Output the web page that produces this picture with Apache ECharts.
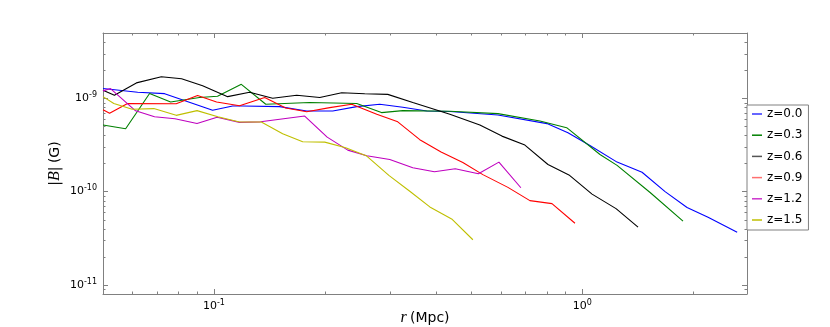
<!DOCTYPE html>
<html>
<head>
<meta charset="utf-8">
<title>|B| vs r</title>
<script src="https://cdn.jsdelivr.net/npm/echarts@6/dist/echarts.min.js"></script>
<style>
  html, body { margin: 0; padding: 0; background: #fff; }
  #chart { width: 830px; height: 327px; }
</style>
</head>
<body>
<div id="chart"></div>
<script>
// r in Mpc, |B| in Gauss
const r00 = [0.050, 0.0621, 0.0735, 0.0992, 0.1124, 0.1197, 0.1508, 0.1786, 0.2102, 0.2442, 0.2820, 0.3257, 0.3784, 0.4371, 0.5902, 0.8020, 0.9144, 1.049, 1.243, 1.453, 1.678, 1.925, 2.195, 2.633]
const b00 = [1.27e-9, 1.16e-9, 1.12e-9, 7.43e-10, 8.27e-10, 8.27e-10, 8.14e-10, 7.30e-10, 7.30e-10, 8.14e-10, 8.62e-10, 8.00e-10, 7.30e-10, 7.20e-10, 6.61e-10, 5.35e-10, 4.28e-10, 3.12e-10, 2.07e-10, 1.61e-10, 1.00e-10, 6.76e-11, 5.32e-11, 3.67e-11]

const r03 = [0.050, 0.0576, 0.0669, 0.0763, 0.0914, 0.1023, 0.1187, 0.1383, 0.1820, 0.2442, 0.2850, 0.3257, 0.4371, 0.5902, 0.7675, 0.907, 1.117, 1.243, 1.528, 1.877]
const b03 = [5.16e-10, 4.72e-10, 1.126e-9, 9.12e-10, 1.02e-9, 1.05e-9, 1.41e-9, 8.62e-10, 8.99e-10, 8.77e-10, 7.02e-10, 7.37e-10, 7.25e-10, 6.85e-10, 5.70e-10, 4.84e-10, 2.50e-10, 1.91e-10, 9.78e-11, 4.82e-11]

const r06 = [0.050, 0.0537, 0.0616, 0.0720, 0.0817, 0.0932, 0.1090, 0.1250, 0.1444, 0.1678, 0.1938, 0.2223, 0.2567, 0.2965, 0.3467, 0.4371, 0.5272, 0.6052, 0.6986, 0.8070, 0.920, 1.063, 1.235, 1.417]
const b06 = [1.22e-9, 1.077e-9, 1.46e-9, 1.70e-9, 1.62e-9, 1.36e-9, 1.04e-9, 1.16e-9, 1.00e-9, 1.077e-9, 1.02e-9, 1.146e-9, 1.118e-9, 1.10e-9, 8.99e-10, 6.73e-10, 5.16e-10, 3.93e-10, 3.15e-10, 1.95e-10, 1.51e-10, 9.4e-11, 6.57e-11, 4.17e-11]

const r09 = [0.050, 0.0521, 0.0583, 0.0790, 0.0903, 0.1017, 0.1174, 0.1374, 0.1566, 0.1786, 0.2063, 0.2367, 0.2768, 0.3156, 0.3622, 0.4137, 0.4740, 0.5372, 0.6283, 0.7208, 0.8274, 0.9554]
const b09 = [7.52e-10, 6.90e-10, 8.77e-10, 8.73e-10, 1.07e-9, 9.12e-10, 8.31e-10, 1.02e-9, 7.86e-10, 7.16e-10, 7.94e-10, 8.62e-10, 6.73e-10, 5.59e-10, 3.60e-10, 2.66e-10, 2.05e-10, 1.52e-10, 1.11e-10, 8.0e-11, 7.43e-11, 4.58e-11]

const r12 = [0.050, 0.0524, 0.0613, 0.0690, 0.0784, 0.0900, 0.1020, 0.1174, 0.1339, 0.1764, 0.2030, 0.2309, 0.2600, 0.3002, 0.3467, 0.3969, 0.4520, 0.5225, 0.5939, 0.6813]
const b12 = [1.20e-9, 1.27e-9, 7.34e-10, 6.33e-10, 6.02e-10, 5.36e-10, 6.25e-10, 5.52e-10, 5.59e-10, 6.45e-10, 3.83e-10, 2.78e-10, 2.42e-10, 2.21e-10, 1.80e-10, 1.63e-10, 1.76e-10, 1.55e-10, 2.07e-10, 1.10e-10]

const r15 = [0.050, 0.0535, 0.0600, 0.0687, 0.0790, 0.0900, 0.1025, 0.1174, 0.1345, 0.1537, 0.1742, 0.2000, 0.2279, 0.2600, 0.2985, 0.3402, 0.3856, 0.4420, 0.5047]
const b15 = [1.04e-9, 8.77e-10, 7.62e-10, 7.75e-10, 6.56e-10, 7.37e-10, 6.33e-10, 5.56e-10, 5.56e-10, 4.17e-10, 3.42e-10, 3.39e-10, 2.95e-10, 2.40e-10, 1.49e-10, 1.01e-10, 6.85e-11, 5.09e-11, 3.05e-11]

const names = ['z=0.0', 'z=0.3', 'z=0.6', 'z=0.9', 'z=1.2', 'z=1.5']
const colors = ['#0000ff', '#008000', '#000000', '#ff0000', '#bf00bf', '#bfbf00']
const legendColors = ['#3333ff', '#008000', '#555555', '#ff7070', '#cc33cc', '#bfbf00']

// axis limits and matplotlib-style minor ticks (2..9 x 10^n)
const xMin = 0.05
const xMax = 2.8
const yMin = 8e-12
const yMax = 5e-9
const xMinorTicks = [0.06, 0.07, 0.08, 0.09, 0.2, 0.3, 0.4, 0.5, 0.6, 0.7, 0.8, 0.9, 2]
const yMinorTicks = [9e-12, 2e-11, 3e-11, 4e-11, 5e-11, 6e-11, 7e-11, 8e-11, 9e-11,
  2e-10, 3e-10, 4e-10, 5e-10, 6e-10, 7e-10, 8e-10, 9e-10, 2e-9, 3e-9, 4e-9]

const frame = '#808080'
const font = 'DejaVu Sans'

function zip (xs, ys) {
  return xs.map((x, i) => [x, ys[i]])
}

function powLabel (v) {
  const e = Math.log10(v)
  if (Math.abs(e - Math.round(e)) > 1e-6) return ''
  return '{b|10}{s|' + Math.round(e) + '}'
}

const labelRich = {
  b: { fontFamily: font, fontSize: 11, color: '#000' },
  s: { fontFamily: font, fontSize: 8, color: '#000', padding: [0, 0, 7, 0] }
}

const chart = echarts.init(document.getElementById('chart'))

const seriesData = [zip(r00, b00), zip(r03, b03), zip(r06, b06), zip(r09, b09), zip(r12, b12), zip(r15, b15)]

const lineSeries = seriesData.map((d, i) => ({
  name: names[i],
  type: 'line',
  data: d,
  symbol: 'none',
  lineStyle: { color: colors[i], width: 1.1 },
  itemStyle: { color: colors[i] },
  animation: false,
  z: 3
}))

const minorData = xMinorTicks.map(v => [v, yMin, 0]).concat(yMinorTicks.map(v => [xMin, v, 1]))

function renderMinor (params, api) {
  const cs = params.coordSys
  const p = api.coord([api.value(0), api.value(1)])
  const len = 2.5
  const st = { stroke: frame, lineWidth: 1 }
  if (api.value(2) === 0) {
    const x = Math.round(p[0]) + 0.5
    return {
      type: 'group',
      children: [
        { type: 'line', shape: { x1: x, y1: cs.y + cs.height, x2: x, y2: cs.y + cs.height - len }, style: st },
        { type: 'line', shape: { x1: x, y1: cs.y, x2: x, y2: cs.y + len }, style: st }
      ]
    }
  }
  const y = Math.round(p[1]) + 0.5
  return {
    type: 'group',
    children: [
      { type: 'line', shape: { x1: cs.x, y1: y, x2: cs.x + len, y2: y }, style: st },
      { type: 'line', shape: { x1: cs.x + cs.width, y1: y, x2: cs.x + cs.width - len, y2: y }, style: st }
    ]
  }
}

const baseAxis = {
  type: 'log',
  logBase: 10,
  axisLine: { show: true, lineStyle: { color: frame, width: 1 } },
  axisTick: { show: true, inside: true, length: 5, lineStyle: { color: frame } },
  splitLine: { show: false }
}

chart.setOption({
  animation: false,
  backgroundColor: '#fff',
  grid: { left: 103, right: 83, top: 33, bottom: 33, containLabel: false, outerBoundsMode: 'none' },
  legend: {
    orient: 'vertical',
    left: 747,
    top: 105,
    backgroundColor: '#fff',
    borderColor: frame,
    borderWidth: 1,
    borderRadius: 0,
    padding: [2, 6, 3, 5],
    itemGap: 7.2,
    icon: 'rect',
    itemWidth: 10,
    itemHeight: 1.5,
    itemTextGap: 9,
    selectedMode: false,
    textStyle: { fontFamily: font, fontSize: 12, color: '#000', lineHeight: 14 },
    data: names.map((n, i) => ({ name: n, itemStyle: { color: legendColors[i] } }))
  },
  xAxis: [
    Object.assign({}, baseAxis, {
      min: xMin,
      max: xMax,
      position: 'bottom',
      axisLabel: { margin: 5, formatter: powLabel, rich: labelRich, showMinLabel: false, showMaxLabel: false },
      name: '{i|r} {n|(Mpc)}',
      nameLocation: 'middle',
      nameGap: 16,
      nameMoveOverlap: false,
      nameTextStyle: {
        rich: {
          i: { fontFamily: 'Liberation Serif', fontStyle: 'italic', fontSize: 16, color: '#000' },
          n: { fontFamily: font, fontSize: 14, color: '#000' }
        }
      }
    }),
    Object.assign({}, baseAxis, {
      min: xMin,
      max: xMax,
      position: 'top',
      axisLabel: { show: false }
    })
  ],
  yAxis: [
    Object.assign({}, baseAxis, {
      min: yMin,
      max: yMax,
      position: 'left',
      axisLabel: { margin: 6, formatter: powLabel, rich: labelRich, showMinLabel: false, showMaxLabel: false },
      name: '{n||}{i|B}{n||} {n|(G)}',
      nameLocation: 'middle',
      nameRotate: 90,
      nameGap: 40,
      nameMoveOverlap: false,
      nameTextStyle: {
        rich: {
          i: { fontFamily: 'Liberation Serif', fontStyle: 'italic', fontSize: 16, color: '#000' },
          n: { fontFamily: font, fontSize: 14, color: '#000' }
        }
      }
    }),
    Object.assign({}, baseAxis, {
      min: yMin,
      max: yMax,
      position: 'right',
      axisLabel: { show: false }
    })
  ],
  series: lineSeries.concat([{
    type: 'custom',
    name: 'minor',
    data: minorData,
    renderItem: renderMinor,
    silent: true,
    clip: false,
    z: 1
  }])
})
</script>
</body>
</html>
